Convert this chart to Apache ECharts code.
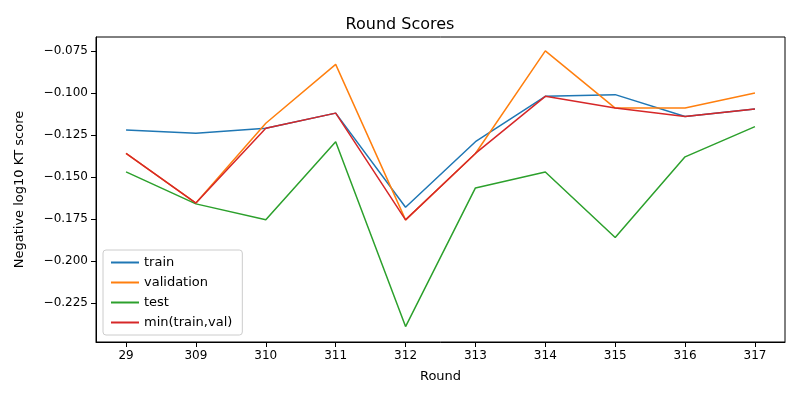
<!DOCTYPE html>
<html>
<head>
<meta charset="utf-8">
<script src="https://cdn.jsdelivr.net/npm/echarts@6/dist/echarts.min.js"></script>
<style>body{margin:0}#chart{width:800px;height:400px}</style>
</head>
<body>
<div id="chart"></div>
<script>
var rounds = ['29', '309', '310', '311', '312', '313', '314', '315', '316', '317'];
var train = [-0.122, -0.124, -0.121, -0.112, -0.168, -0.129, -0.102, -0.101, -0.114, -0.1095];
var validation = [-0.136, -0.1655, -0.118, -0.083, -0.1755, -0.136, -0.075, -0.109, -0.109, -0.100];
var test = [-0.147, -0.166, -0.1755, -0.129, -0.239, -0.1565, -0.147, -0.186, -0.138, -0.120];
var minTrainVal = [-0.136, -0.1655, -0.121, -0.112, -0.1755, -0.136, -0.102, -0.109, -0.114, -0.1095];
var yTicks = [-0.225, -0.2, -0.175, -0.15, -0.125, -0.1, -0.075];

var font = 'DejaVu Sans';
var myChart = echarts.init(document.getElementById('chart'));
function pts(arr) {
    return arr.map(function (v, i) { return [i, v]; });
}
function line(name, arr, color) {
    return {
        name: name, type: 'line', data: pts(arr), symbol: 'none',
        lineStyle: { color: color, width: 1.5 }, itemStyle: { color: color }
    };
}
myChart.setOption({
    animation: false,
    textStyle: { fontFamily: font },
    title: {
        text: 'Round Scores', left: 'center', top: 12,
        textStyle: { fontFamily: font, fontSize: 16, fontWeight: 'normal', color: '#000' }
    },
    grid: { left: 96, right: 15, top: 37, bottom: 58, show: true, borderColor: '#000', borderWidth: 1 },
    legend: {
        orient: 'vertical', left: 103, top: 250,
        backgroundColor: '#fff', borderColor: '#ccc', borderWidth: 1, borderRadius: 3,
        padding: [6, 10, 6, 8], itemGap: 7, itemWidth: 28, itemHeight: 2,
        textStyle: { fontFamily: font, fontSize: 13, color: '#000' },
        icon: 'rect'
    },
    xAxis: {
        type: 'value', min: -0.43, max: 9.43,
        name: 'Round', nameLocation: 'middle', nameGap: 28,
        nameTextStyle: { fontFamily: font, fontSize: 13, color: '#000' },
        axisLine: { onZero: false, lineStyle: { color: '#000' } },
        axisTick: { show: true, length: 5, lineStyle: { color: '#000' }, customValues: [0, 1, 2, 3, 4, 5, 6, 7, 8, 9] },
        axisLabel: {
            color: '#000', fontSize: 12, customValues: [0, 1, 2, 3, 4, 5, 6, 7, 8, 9],
            formatter: function (v) { return rounds[Math.round(v)]; }
        },
        splitLine: { show: false }
    },
    yAxis: {
        type: 'value', min: -0.2482, max: -0.0667,
        name: 'Negative log10 KT score', nameLocation: 'middle', nameGap: 70,
        nameTextStyle: { fontFamily: font, fontSize: 13, color: '#000' },
        axisLine: { show: true, onZero: false, lineStyle: { color: '#000' } },
        axisTick: { show: true, length: 5, lineStyle: { color: '#000' }, customValues: yTicks },
        axisLabel: {
            color: '#000', fontSize: 12, customValues: yTicks,
            formatter: function (v) { return v.toFixed(3).replace('-', '\u2212'); }
        },
        splitLine: { show: false }
    },
    series: [
        line('train', train, '#1f77b4'),
        line('validation', validation, '#ff7f0e'),
        line('test', test, '#2ca02c'),
        line('min(train,val)', minTrainVal, '#d62728')
    ]
});
</script>
</body>
</html>
